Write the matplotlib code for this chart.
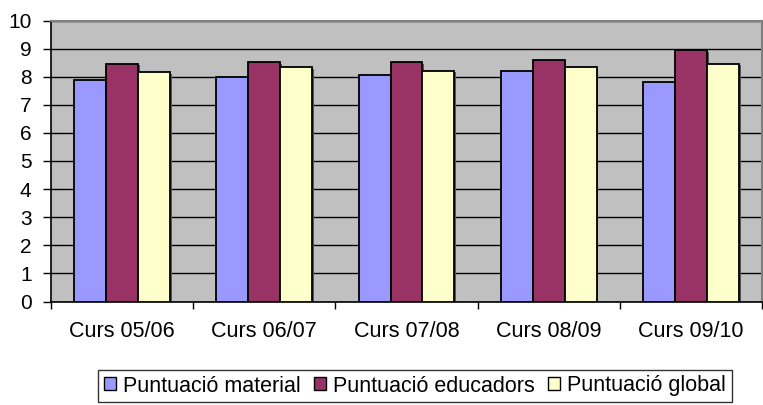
import matplotlib
matplotlib.use("Agg")
import matplotlib.pyplot as plt
import numpy as np
from matplotlib.patches import Patch

categories = ["Curs 05/06", "Curs 06/07", "Curs 07/08", "Curs 08/09", "Curs 09/10"]
material = [7.87, 7.99, 8.05, 8.22, 7.81]
educadors = [8.46, 8.52, 8.52, 8.58, 8.94]
global_ = [8.17, 8.35, 8.22, 8.35, 8.46]
series_names = ["Puntuació material", "Puntuació educadors", "Puntuació global"]
colors = ["#9999FF", "#993366", "#FFFFCC"]

plt.rcParams['font.family'] = ['Liberation Sans', 'DejaVu Sans']

fig = plt.figure(figsize=(7.63, 4.05), dpi=100)
ax = fig.add_axes([51/763, 1 - 301.5/405, 711/763, 281/405])
ax.set_facecolor("#C0C0C0")

x = np.arange(len(categories))
w = 0.225
for i, (vals, c) in enumerate(zip([material, educadors, global_], colors)):
    pos = x + (i - 1) * w
    # shadow
    ax.bar(pos + 0.012, vals, w, bottom=-0.06, color="#555555", zorder=2, linewidth=0)
    ax.bar(pos, vals, w, color=c, edgecolor="black", linewidth=1.3, zorder=3)

ax.set_xlim(-0.5, len(categories) - 0.5)
ax.set_ylim(0, 10)
ax.set_yticks(range(0, 11))
ax.yaxis.grid(True, color="black", linewidth=1.0, zorder=1)
ax.set_axisbelow(True)

ax.set_xticks(x)
ax.set_xticklabels(categories, fontsize=15.5)
ax.tick_params(axis='x', length=0, pad=14)
ax.set_xticks(np.arange(-0.5, len(categories)), minor=True)
ax.tick_params(axis='x', which='minor', length=5, width=1, direction='out')
ax.tick_params(axis='y', labelsize=15, length=6, width=1, direction='out', pad=8)

for s in ["top", "right"]:
    ax.spines[s].set_color("#808080")
    ax.spines[s].set_linewidth(1.5)
for s in ["left", "bottom"]:
    ax.spines[s].set_color("black")
    ax.spines[s].set_linewidth(1.2)

handles = [Patch(facecolor=c, edgecolor="black", linewidth=1) for c in colors]
leg = fig.legend(handles, series_names, loc="center", bbox_to_anchor=(415/763, 1 - 386/405),
                 ncol=3, fontsize=15.5, frameon=True, fancybox=False, edgecolor="black",
                 handlelength=0.55, handleheight=0.55, handletextpad=0.35, columnspacing=0.6,
                 borderpad=0.25, borderaxespad=0)
leg.get_frame().set_linewidth(1.0)

fig.savefig("out.png", dpi=100)
